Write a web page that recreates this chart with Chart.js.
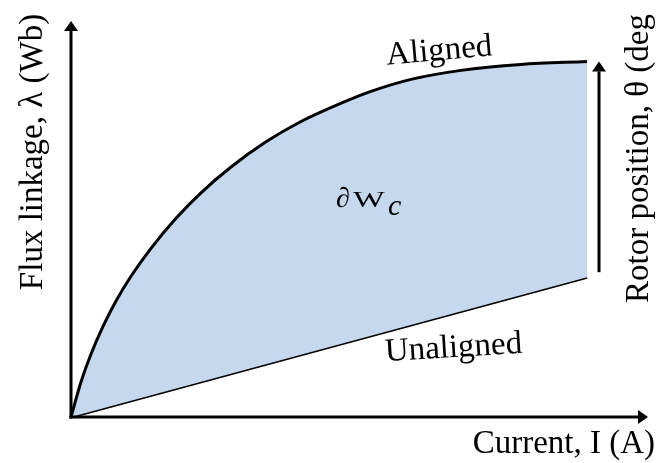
<!DOCTYPE html>
<html>
<head>
<meta charset="utf-8">
<script src="https://cdn.jsdelivr.net/npm/chart.js@4.4.1/dist/chart.umd.min.js"></script>
<style>
  html, body { margin: 0; padding: 0; background: #ffffff; }
  canvas { display: block; }
</style>
</head>
<body>
<canvas id="chart" width="657" height="463"></canvas>
<script>
// Magnetisation curves of a switched reluctance machine (normalised units)
const alignedCurrent = [0, 1.73, 3.47, 5.55, 7.80, 10.40, 13.86, 18.20, 22.53, 27.73, 33.80, 39.86, 45.93, 51.99, 58.93, 67.59, 77.99, 89.43];
const alignedFlux    = [0, 8.84, 15.91, 22.88, 29.29, 35.53, 42.60, 50.18, 56.62, 63.13, 69.49, 74.62, 78.69, 82.22, 85.25, 87.53, 89.04, 89.80];
const unalignedCurrent = [0, 89.43];
const unalignedFlux    = [0, 35.3];

const xAxisTitle = 'Current, I (A)';
const yAxisTitle = 'Flux linkage, \u03BB (Wb)';
const rotorTitle = 'Rotor position, \u03B8 (deg';
const alignedLabel = 'Aligned';
const unalignedLabel = 'Unaligned';

const INK = '#000000';
const FILL = 'rgb(197, 216, 238)';

// pick the first serif face that is actually installed
function pickSerif() {
  const probe = document.createElement('canvas').getContext('2d');
  const sample = 'Aligned Wbglx 0123';
  const widthOf = (f) => { probe.font = '40px ' + f; return probe.measureText(sample).width; };
  const candidates = ['Liberation Serif', 'Times New Roman', 'Tinos', 'DejaVu Serif', 'Noto Serif', 'FreeSerif'];
  for (const name of candidates) {
    const a = widthOf('"' + name + '", monospace');
    const b = widthOf('monospace');
    const c = widthOf('"' + name + '", sans-serif');
    const d = widthOf('sans-serif');
    if (Math.abs(a - b) > 0.5 && Math.abs(c - d) > 0.5) return '"' + name + '", serif';
  }
  return 'serif';
}
const FONT = pickSerif();

const toPoints = (xs, ys) => xs.map((x, i) => ({ x: x, y: ys[i] }));

function arrow(ctx, x1, y1, x2, y2, head, half) {
  const ang = Math.atan2(y2 - y1, x2 - x1);
  const bx = x2 - head * Math.cos(ang);
  const by = y2 - head * Math.sin(ang);
  ctx.beginPath();
  ctx.moveTo(x1, y1);
  ctx.lineTo(bx, by);
  ctx.stroke();
  ctx.beginPath();
  ctx.moveTo(x2, y2);
  ctx.lineTo(bx + half * Math.sin(ang), by - half * Math.cos(ang));
  ctx.lineTo(bx - half * Math.sin(ang), by + half * Math.cos(ang));
  ctx.closePath();
  ctx.fill();
}

// Axes with arrowheads, the rotor-position arrow and all labels
const decorations = {
  id: 'decorations',
  afterDatasetsDraw(chart) {
    const ctx = chart.ctx;
    const xs = chart.scales.x, ys = chart.scales.y;
    const x0 = xs.getPixelForValue(0), y0 = ys.getPixelForValue(0);
    const xEnd = xs.getPixelForValue(xs.max), yEnd = ys.getPixelForValue(ys.max);
    ctx.save();
    ctx.strokeStyle = INK;
    ctx.fillStyle = INK;
    ctx.lineWidth = 3;
    ctx.lineCap = 'butt';
    arrow(ctx, x0, y0 + 1.5, x0, yEnd, 10, 7);
    arrow(ctx, x0 - 1.5, y0, xEnd, y0, 10, 7);

    // rotor position arrow beside the curve ends
    const lastA = alignedCurrent.length - 1, lastU = unalignedCurrent.length - 1;
    const ax = xs.getPixelForValue(alignedCurrent[lastA]) + 12;
    const aTop = ys.getPixelForValue(alignedFlux[lastA]);
    const aBot = ys.getPixelForValue(unalignedFlux[lastU]) - 5;
    arrow(ctx, ax, aBot, ax, aTop, 10, 7);

    ctx.fillStyle = INK;
    ctx.font = '33px ' + FONT;
    ctx.textBaseline = 'alphabetic';

    // x axis title
    ctx.textAlign = 'right';
    ctx.fillText(xAxisTitle, 655, 453);

    // y axis title
    ctx.save();
    ctx.translate(42, 152);
    ctx.rotate(-Math.PI / 2);
    ctx.textAlign = 'center';
    ctx.fillText(yAxisTitle, 0, 0);
    ctx.restore();

    // rotor position title
    ctx.save();
    ctx.translate(648, 303);
    ctx.rotate(-Math.PI / 2);
    ctx.textAlign = 'left';
    ctx.fillText(rotorTitle, 0, 0);
    ctx.restore();

    // curve labels
    ctx.save();
    ctx.translate(440, 60);
    ctx.rotate(-5 * Math.PI / 180);
    ctx.textAlign = 'center';
    ctx.fillText(alignedLabel, 0, 0);
    ctx.restore();

    ctx.save();
    ctx.translate(454, 357);
    ctx.rotate(-3.5 * Math.PI / 180);
    ctx.textAlign = 'center';
    ctx.fillText(unalignedLabel, 0, 0);
    ctx.restore();

    // co-energy label inside the shaded region
    ctx.textAlign = 'left';
    ctx.font = 'italic 28px ' + FONT;
    ctx.fillText('\u2202', 336, 207);
    ctx.save();
    ctx.translate(353, 207);
    ctx.scale(1.4, 1);
    ctx.font = '24px ' + FONT;
    ctx.fillText('W', 0, 0);
    ctx.restore();
    ctx.font = 'italic 30px ' + FONT;
    ctx.fillText('c', 388, 215);

    ctx.restore();
  }
};

new Chart(document.getElementById('chart'), {
  type: 'line',
  data: {
    datasets: [
      {
        label: alignedLabel,
        data: toPoints(alignedCurrent, alignedFlux),
        borderColor: INK,
        borderWidth: 3,
        backgroundColor: FILL,
        fill: '+1',
        pointRadius: 0,
        cubicInterpolationMode: 'monotone'
      },
      {
        label: unalignedLabel,
        data: toPoints(unalignedCurrent, unalignedFlux),
        borderColor: INK,
        borderWidth: 3,
        fill: false,
        pointRadius: 0
      }
    ]
  },
  options: {
    responsive: false,
    animation: false,
    clip: false,
    layout: { padding: { left: 71, right: 9, top: 21, bottom: 46 } },
    scales: {
      x: { type: 'linear', min: 0, max: 100, display: false },
      y: { type: 'linear', min: 0, max: 100, display: false }
    },
    plugins: {
      legend: { display: false },
      tooltip: { enabled: false }
    }
  },
  plugins: [decorations]
});
</script>
</body>
</html>
